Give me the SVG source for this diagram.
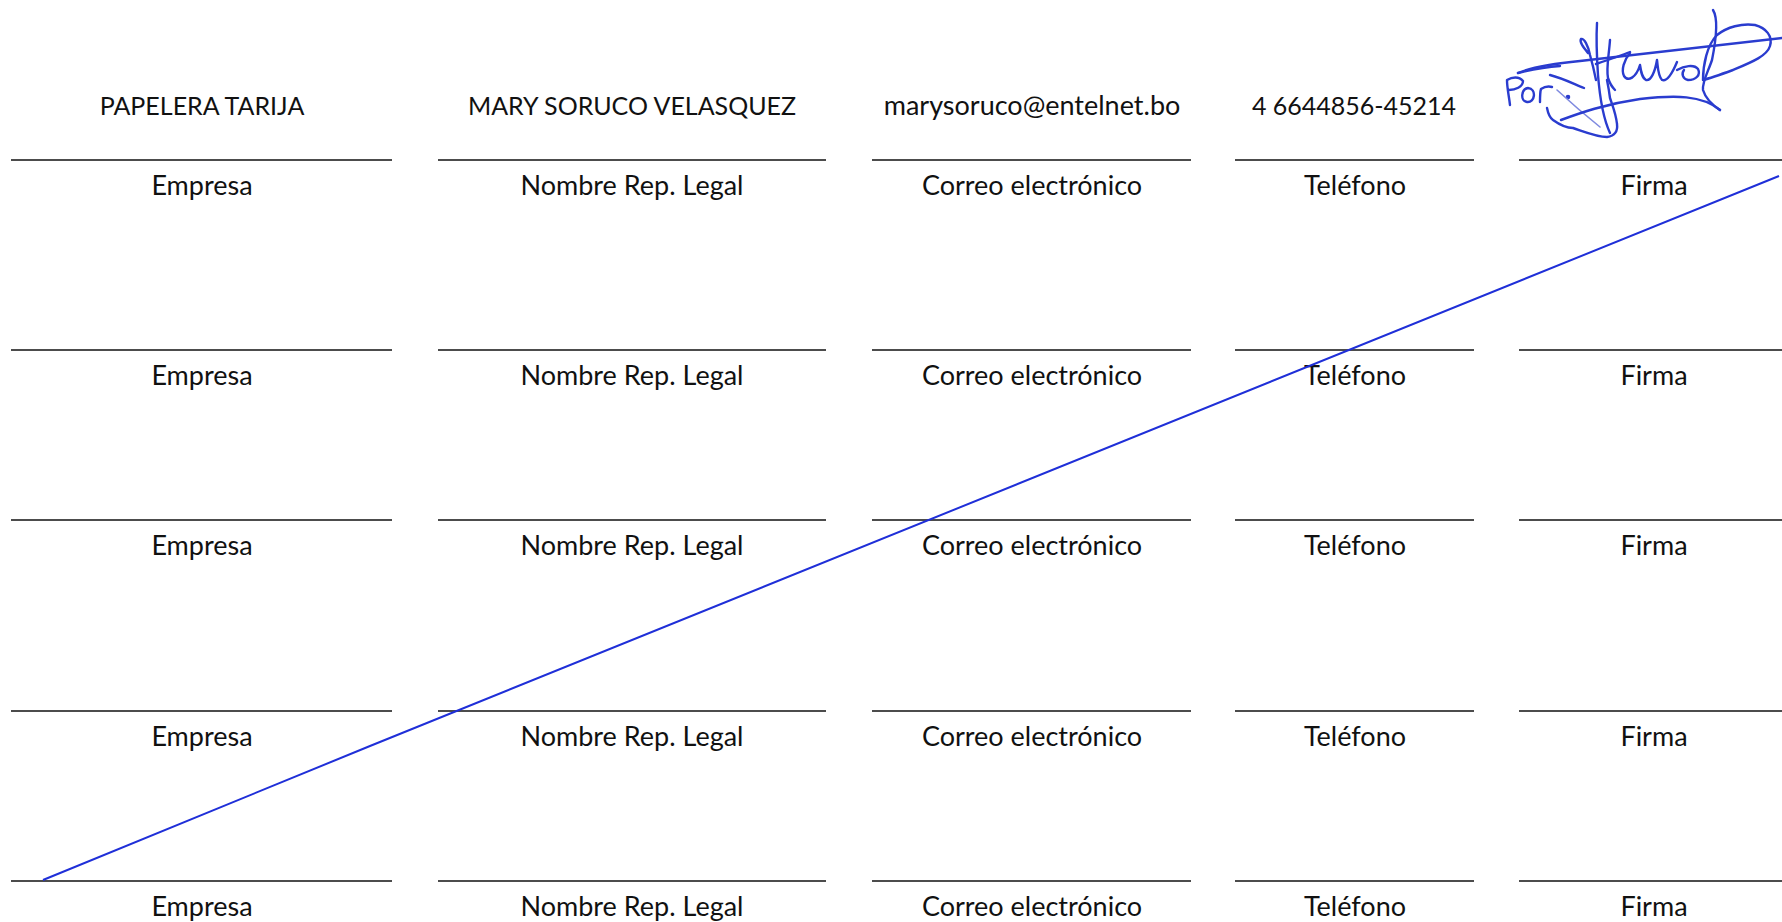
<svg xmlns="http://www.w3.org/2000/svg" width="1782" height="922" viewBox="0 0 1782 922">
<style>
.t{font-family:Lato,"Liberation Sans",sans-serif;font-size:27px;fill:#111;text-anchor:middle}
.ln{stroke:#111;stroke-width:1.6}
.sig{fill:none;stroke:#2a3ccf;stroke-width:2.4;stroke-linecap:round;stroke-linejoin:round}
</style>
<rect width="1782" height="922" fill="#fff"/>
<g id="filled">
<text class="t" x="202" y="115" style="font-size:25px">PAPELERA TARIJA</text>
<text class="t" x="632" y="115" style="font-size:25px">MARY SORUCO VELASQUEZ</text>
<text class="t" x="1032" y="115" style="font-size:27px">marysoruco@entelnet.bo</text>
<text class="t" x="1354" y="115" style="font-size:25px">4 6644856-45214</text>
</g>
<g id="row1">
<line class="ln" x1="11" y1="160" x2="392" y2="160"/><line class="ln" x1="438" y1="160" x2="826" y2="160"/><line class="ln" x1="872" y1="160" x2="1191" y2="160"/><line class="ln" x1="1235" y1="160" x2="1474" y2="160"/><line class="ln" x1="1519" y1="160" x2="1782" y2="160"/>
<text class="t" x="202" y="195">Empresa</text><text class="t" x="632" y="195">Nombre Rep. Legal</text><text class="t" x="1032" y="195">Correo electrónico</text><text class="t" x="1355" y="195">Teléfono</text><text class="t" x="1654" y="195">Firma</text>
</g>
<g id="row2">
<line class="ln" x1="11" y1="350" x2="392" y2="350"/><line class="ln" x1="438" y1="350" x2="826" y2="350"/><line class="ln" x1="872" y1="350" x2="1191" y2="350"/><line class="ln" x1="1235" y1="350" x2="1474" y2="350"/><line class="ln" x1="1519" y1="350" x2="1782" y2="350"/>
<text class="t" x="202" y="385">Empresa</text><text class="t" x="632" y="385">Nombre Rep. Legal</text><text class="t" x="1032" y="385">Correo electrónico</text><text class="t" x="1355" y="385">Teléfono</text><text class="t" x="1654" y="385">Firma</text>
</g>
<g id="row3">
<line class="ln" x1="11" y1="520" x2="392" y2="520"/><line class="ln" x1="438" y1="520" x2="826" y2="520"/><line class="ln" x1="872" y1="520" x2="1191" y2="520"/><line class="ln" x1="1235" y1="520" x2="1474" y2="520"/><line class="ln" x1="1519" y1="520" x2="1782" y2="520"/>
<text class="t" x="202" y="555">Empresa</text><text class="t" x="632" y="555">Nombre Rep. Legal</text><text class="t" x="1032" y="555">Correo electrónico</text><text class="t" x="1355" y="555">Teléfono</text><text class="t" x="1654" y="555">Firma</text>
</g>
<g id="row4">
<line class="ln" x1="11" y1="711" x2="392" y2="711"/><line class="ln" x1="438" y1="711" x2="826" y2="711"/><line class="ln" x1="872" y1="711" x2="1191" y2="711"/><line class="ln" x1="1235" y1="711" x2="1474" y2="711"/><line class="ln" x1="1519" y1="711" x2="1782" y2="711"/>
<text class="t" x="202" y="746">Empresa</text><text class="t" x="632" y="746">Nombre Rep. Legal</text><text class="t" x="1032" y="746">Correo electrónico</text><text class="t" x="1355" y="746">Teléfono</text><text class="t" x="1654" y="746">Firma</text>
</g>
<g id="row5">
<line class="ln" x1="11" y1="881" x2="392" y2="881"/><line class="ln" x1="438" y1="881" x2="826" y2="881"/><line class="ln" x1="872" y1="881" x2="1191" y2="881"/><line class="ln" x1="1235" y1="881" x2="1474" y2="881"/><line class="ln" x1="1519" y1="881" x2="1782" y2="881"/>
<text class="t" x="202" y="916">Empresa</text><text class="t" x="632" y="916">Nombre Rep. Legal</text><text class="t" x="1032" y="916">Correo electrónico</text><text class="t" x="1355" y="916">Teléfono</text><text class="t" x="1654" y="916">Firma</text>
</g>
<g id="connectors">
<polyline fill="none" stroke="#1f2fd8" stroke-width="2" points="43,880 370,746 1779,176"/>
</g>
<g id="signature" class="sig">
<path d="M1510,105 C1509,96 1507,88 1507,80 C1512,77 1519,76 1523,81 C1523,87 1515,90 1509,90"/>
<path d="M1528,88 C1521,89 1520,101 1527,102 C1535,103 1537,89 1528,88"/>
<path d="M1540,102 C1540,97 1540,92 1541,89 C1544,87 1548,86 1552,87"/>
<circle cx="1568" cy="97" r="1.1"/>
<path d="M1550,75 C1562,78 1574,84 1584,88"/>
<path d="M1557,90 C1570,102 1585,115 1600,127" style="stroke:#7f8ae0;stroke-width:1.6"/>
<path d="M1518,73 C1530,68 1550,64 1580,61 C1620,56 1690,48 1782,38"/>
<path d="M1518,73 C1530,70 1545,67 1560,66"/>
<path d="M1561,120 C1580,113 1605,104 1640,99 C1675,95 1702,95 1720,110"/>
<path d="M1547,108 C1548,113 1550,118 1553,120 C1560,125 1567,128 1573,128 C1585,132 1597,137 1607,137 C1614,136 1618,132 1617,124 C1616,114 1613,107 1610,98 C1609,90 1608,85 1607,80"/>
<path d="M1597,23 C1596,40 1597,60 1598,75 C1600,100 1603,118 1610,133"/>
<path d="M1588,53 C1584,48 1579,42 1581,39 C1584,38 1588,45 1590,55 C1592,62 1594,70 1596,80"/>
<path d="M1610,40 C1609,55 1606,68 1608,78 C1610,84 1613,88 1615,90"/>
<path d="M1596,64 C1608,60 1620,56 1630,52"/>
<path d="M1630,53 C1624,60 1621,70 1624,76 C1628,82 1636,78 1640,65 C1641,72 1642,78 1646,80 C1651,81 1655,72 1657,60 C1658,68 1658,76 1662,80 C1667,82 1672,74 1677,62"/>
<path d="M1677,70 C1684,66 1694,64 1698,69 C1701,75 1696,80 1688,80 C1683,79 1681,74 1684,70"/>
<path d="M1713,10 C1718,18 1716,40 1712,60 C1708,72 1702,82 1703,90 C1706,100 1714,106 1720,110"/>
<path d="M1703,80 C1703,65 1707,45 1717,35 C1727,27 1742,23 1755,25 C1766,28 1773,36 1770,46 C1767,56 1752,62 1733,70 C1722,74 1711,78 1703,80"/>
</g>
</svg>
